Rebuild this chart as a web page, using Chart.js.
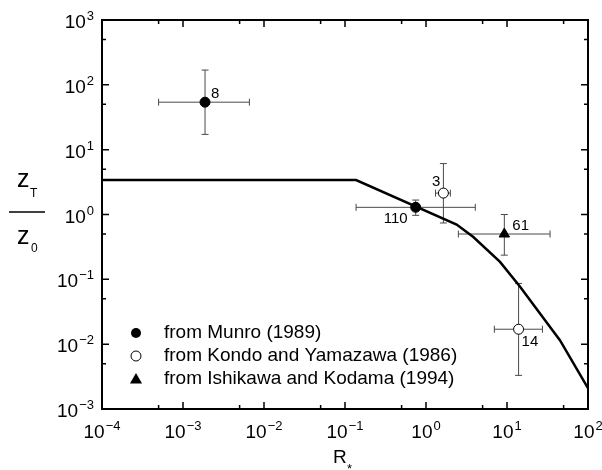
<!DOCTYPE html>
<html>
<head>
<meta charset="utf-8">
<script src="https://cdn.jsdelivr.net/npm/chart.js@4/dist/chart.umd.min.js"></script>
<style>
    html, body { margin: 0; padding: 0; background: #ffffff; }
    #wrap { width: 602px; height: 470px; }
</style>
</head>
<body>
<div id="wrap"><canvas id="zChart" width="602" height="470"></canvas></div>
<script>
// Model curve z_T / z_0 against R*
const curveR = [1e-4, 0.137, 2.39, 3.84, 8.2, 14.5, 45, 100];
const curveZ = [3.4, 3.4, 0.70, 0.45, 0.186, 0.077, 0.0115, 0.0021];

// Munro (1989)
const munroR = [1.87e-3, 0.746];
const munroZ = [54, 1.29];
const munroRLo = [5.0e-4, 0.137];
const munroRHi = [6.6e-3, 4.06];
const munroZLo = [17.2, 0.97];
const munroZHi = [169, 1.67];
const munroN = ['8', '110'];

// Kondo and Yamazawa (1986)
const kondoR = [1.64, 13.9];
const kondoZ = [2.14, 0.017];
const kondoRLo = [1.31, 6.98];
const kondoRHi = [2.0, 27.4];
const kondoZLo = [0.74, 0.0033];
const kondoZHi = [6.1, 0.0865];
const kondoN = ['3', '14'];

// Ishikawa and Kodama (1994)
const ishiR = [9.27];
const ishiZ = [0.50];
const ishiRLo = [2.51];
const ishiRHi = [34];
const ishiZLo = [0.236];
const ishiZHi = [1.0];
const ishiN = ['61'];

// Axis decades
const xExponents = [-4, -3, -2, -1, 0, 1, 2];
const yExponents = [-3, -2, -1, 0, 1, 2, 3];

const legendLabels = [
    'from Munro (1989)',
    'from Kondo and Yamazawa (1986)',
    'from Ishikawa and Kodama (1994)'
];

const FONT = '"Liberation Sans", Arial, Helvetica, sans-serif';

function toPoints(xs, ys) {
    return xs.map((x, i) => ({ x: x, y: ys[i] }));
}

function errorRows(r, z, rLo, rHi, zLo, zHi, n) {
    return r.map((v, i) => ({ x: v, y: z[i], xlo: rLo[i], xhi: rHi[i], ylo: zLo[i], yhi: zHi[i], n: n[i] }));
}

const munroRows = errorRows(munroR, munroZ, munroRLo, munroRHi, munroZLo, munroZHi, munroN);
const kondoRows = errorRows(kondoR, kondoZ, kondoRLo, kondoRHi, kondoZLo, kondoZHi, kondoN);
const ishiRows = errorRows(ishiR, ishiZ, ishiRLo, ishiRHi, ishiZLo, ishiZHi, ishiN);

// where each run-count label sits relative to its marker
const labelPlacement = {
    '8':   { dx: 6,  dy: -4, align: 'left' },
    '110': { dx: -8, dy: 16, align: 'right' },
    '3':   { dx: -3, dy: -7, align: 'right' },
    '61':  { dx: 8,  dy: -4, align: 'left' },
    '14':  { dx: 3,  dy: 17, align: 'left' }
};

// Error bars go under the markers
const errorBars = {
    id: 'errorBars',
    beforeDatasetsDraw(chart) {
        const ctx = chart.ctx;
        const xs = chart.scales.x;
        const ys = chart.scales.y;
        const cap = 3.5;
        ctx.save();
        ctx.strokeStyle = '#4a4a4a';
        ctx.lineWidth = 1;
        [munroRows, kondoRows, ishiRows].forEach(rows => {
            rows.forEach(p => {
                const cx = xs.getPixelForValue(p.x);
                const cy = ys.getPixelForValue(p.y);
                const x0 = xs.getPixelForValue(p.xlo);
                const x1 = xs.getPixelForValue(p.xhi);
                const y0 = ys.getPixelForValue(p.ylo);
                const y1 = ys.getPixelForValue(p.yhi);
                ctx.beginPath();
                ctx.moveTo(x0, cy); ctx.lineTo(x1, cy);
                ctx.moveTo(x0, cy - cap); ctx.lineTo(x0, cy + cap);
                ctx.moveTo(x1, cy - cap); ctx.lineTo(x1, cy + cap);
                ctx.moveTo(cx, y0); ctx.lineTo(cx, y1);
                ctx.moveTo(cx - cap, y0); ctx.lineTo(cx + cap, y0);
                ctx.moveTo(cx - cap, y1); ctx.lineTo(cx + cap, y1);
                ctx.stroke();
            });
        });
        ctx.restore();
    }
};

// "10" with a raised exponent
function drawPower(ctx, exp, x, baseline, align) {
    const base = '10';
    const sup = String(exp).replace('-', '\u2212');
    ctx.font = '19px ' + FONT;
    const wb = ctx.measureText(base).width;
    ctx.font = '13px ' + FONT;
    const ws = ctx.measureText(sup).width;
    const total = wb + ws + 1;
    let left = x;
    if (align === 'center') left = x - total / 2;
    if (align === 'right') left = x - total;
    ctx.textAlign = 'left';
    ctx.textBaseline = 'alphabetic';
    ctx.font = '19px ' + FONT;
    ctx.fillText(base, left, baseline);
    ctx.font = '13px ' + FONT;
    ctx.fillText(sup, left + wb + 1, baseline - 8);
}

function drawMarker(ctx, style, x, y, r) {
    ctx.beginPath();
    if (style === 'triangle') {
        const h = r * 1.5;
        const half = r * 0.866;
        ctx.moveTo(x, y - r);
        ctx.lineTo(x + half, y + h - r);
        ctx.lineTo(x - half, y + h - r);
        ctx.closePath();
    } else {
        ctx.arc(x, y, r, 0, Math.PI * 2);
    }
}

// Frame, inward ticks, decade labels, axis titles, legend, run counts
const axesAndText = {
    id: 'axesAndText',
    afterDraw(chart) {
        const ctx = chart.ctx;
        const a = chart.chartArea;
        const xs = chart.scales.x;
        const ys = chart.scales.y;
        ctx.save();
        ctx.fillStyle = '#000000';
        ctx.strokeStyle = '#000000';

        ctx.lineWidth = 2;
        ctx.strokeRect(a.left, a.top, a.right - a.left, a.bottom - a.top);

        ctx.lineWidth = 1.5;
        ctx.beginPath();
        xExponents.forEach(e => {
            const px = xs.getPixelForValue(Math.pow(10, e));
            ctx.moveTo(px, a.bottom); ctx.lineTo(px, a.bottom - 7);
            ctx.moveTo(px, a.top); ctx.lineTo(px, a.top + 7);
            const m = 5 * Math.pow(10, e);
            if (m < xs.max) {
                const pm = xs.getPixelForValue(m);
                ctx.moveTo(pm, a.bottom); ctx.lineTo(pm, a.bottom - 4);
                ctx.moveTo(pm, a.top); ctx.lineTo(pm, a.top + 4);
            }
        });
        yExponents.forEach(e => {
            const py = ys.getPixelForValue(Math.pow(10, e));
            ctx.moveTo(a.left, py); ctx.lineTo(a.left + 7, py);
            ctx.moveTo(a.right, py); ctx.lineTo(a.right - 7, py);
            const m = 5 * Math.pow(10, e);
            if (m < ys.max) {
                const pm = ys.getPixelForValue(m);
                ctx.moveTo(a.left, pm); ctx.lineTo(a.left + 4, pm);
                ctx.moveTo(a.right, pm); ctx.lineTo(a.right - 4, pm);
            }
        });
        ctx.stroke();

        xExponents.forEach(e => {
            drawPower(ctx, e, xs.getPixelForValue(Math.pow(10, e)), a.bottom + 29, 'center');
        });
        yExponents.forEach(e => {
            drawPower(ctx, e, a.left - 8, ys.getPixelForValue(Math.pow(10, e)) + 8, 'right');
        });

        // x title: R*
        ctx.textAlign = 'left';
        ctx.textBaseline = 'alphabetic';
        ctx.font = '19px ' + FONT;
        ctx.fillText('R', 333, 463);
        ctx.font = '13px ' + FONT;
        ctx.fillText('*', 347, 473);

        // y title: z_T over z_0
        ctx.font = '25px ' + FONT;
        ctx.fillText('z', 17, 187);
        ctx.fillText('z', 17, 244);
        ctx.font = '12px ' + FONT;
        ctx.fillText('T', 30, 197);
        ctx.fillText('0', 31, 252);
        ctx.lineWidth = 1.5;
        ctx.beginPath();
        ctx.moveTo(9, 212); ctx.lineTo(45, 212);
        ctx.stroke();

        // legend
        const styles = ['filled', 'open', 'triangle'];
        const rowY = [333, 356, 379];
        styles.forEach((s, i) => {
            ctx.lineWidth = 1;
            if (s === 'triangle') {
                drawMarker(ctx, 'triangle', 136, rowY[i] + 1, 7);
                ctx.fill();
            } else {
                drawMarker(ctx, 'circle', 136, rowY[i], 5);
                if (s === 'filled') {
                    ctx.fill();
                } else {
                    ctx.fillStyle = '#ffffff';
                    ctx.fill();
                    ctx.fillStyle = '#000000';
                    ctx.stroke();
                }
            }
            ctx.font = '19px ' + FONT;
            ctx.textAlign = 'left';
            ctx.textBaseline = 'middle';
            ctx.fillText(legendLabels[i], 164, rowY[i]);
        });

        // run counts beside the points
        ctx.font = '15px ' + FONT;
        ctx.textBaseline = 'alphabetic';
        [munroRows, kondoRows, ishiRows].forEach(rows => {
            rows.forEach(p => {
                const pl = labelPlacement[p.n];
                ctx.textAlign = pl.align;
                ctx.fillText(p.n, xs.getPixelForValue(p.x) + pl.dx, ys.getPixelForValue(p.y) + pl.dy);
            });
        });
        ctx.restore();
    }
};

const ctx = document.getElementById('zChart').getContext('2d');

new Chart(ctx, {
    type: 'scatter',
    data: {
        datasets: [
            {
                label: 'model',
                data: toPoints(curveR, curveZ),
                showLine: true,
                borderColor: '#000000',
                borderWidth: 2.5,
                pointRadius: 0,
                tension: 0,
                order: 2
            },
            {
                label: legendLabels[0],
                data: toPoints(munroR, munroZ),
                pointStyle: 'circle',
                pointRadius: 5,
                backgroundColor: '#000000',
                borderColor: '#000000',
                borderWidth: 1,
                order: 1
            },
            {
                label: legendLabels[1],
                data: toPoints(kondoR, kondoZ),
                pointStyle: 'circle',
                pointRadius: 5,
                backgroundColor: '#ffffff',
                borderColor: '#000000',
                borderWidth: 1,
                order: 1
            },
            {
                label: legendLabels[2],
                data: toPoints(ishiR, ishiZ),
                pointStyle: 'triangle',
                pointRadius: 6,
                backgroundColor: '#000000',
                borderColor: '#000000',
                borderWidth: 1,
                order: 1
            }
        ]
    },
    options: {
        responsive: false,
        animation: false,
        layout: {
            padding: { left: 102, top: 20, right: 14, bottom: 61 }
        },
        plugins: {
            legend: { display: false },
            tooltip: { enabled: false }
        },
        scales: {
            x: { type: 'logarithmic', min: 1e-4, max: 100, display: false },
            y: { type: 'logarithmic', min: 1e-3, max: 1e3, display: false }
        }
    },
    plugins: [errorBars, axesAndText]
});
</script>
</body>
</html>
